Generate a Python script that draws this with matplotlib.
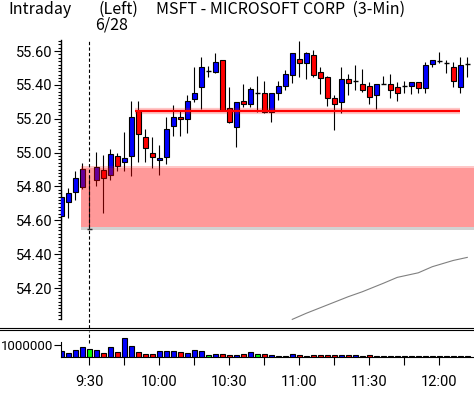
import numpy as np
import matplotlib
matplotlib.use("Agg")
import matplotlib.pyplot as plt
from matplotlib.lines import Line2D
from matplotlib.ticker import FixedLocator, FuncFormatter

plt.rcParams['font.family'] = ['Noto Sans CJK JP', 'DejaVu Sans']

# ---- data (bar index 0 = 9:30, 3-minute bars) ----
bar_index = list(range(-4, 55))
opens = [54.625, 54.71, 54.77, 54.795, 54.55, 54.84, 54.897, 54.87, 54.978, 54.943,
         54.982, 55.245, 55.09, 55.00, 54.955, 54.972, 55.155, 55.208, 55.197, 55.318,
         55.389, 55.484, 55.478, 55.545, 55.262, 55.153, 55.305, 55.285, 55.352, 55.35,
         55.238, 55.35, 55.393, 55.456, 55.555, 55.527, 55.575, 55.474, 55.445, 55.32,
         55.297, 55.433, 55.421, 55.403, 55.391, 55.338, 55.403, 55.403, 55.389, 55.391,
         55.395, 55.419, 55.38, 55.521, 55.543, 55.531, 55.504, 55.389, 55.523]
highs = [54.78, 54.79, 54.89, 54.94, 54.86, 55.005, 54.985, 55.02, 54.995, 55.12,
         55.305, 55.305, 55.14, 55.094, 55.045, 55.21, 55.28, 55.25, 55.34, 55.507,
         55.566, 55.51, 55.59, 55.545, 55.386, 55.30, 55.405, 55.39, 55.452, 55.42,
         55.35, 55.42, 55.488, 55.59, 55.66, 55.592, 55.606, 55.507, 55.452, 55.34,
         55.504, 55.464, 55.517, 55.494, 55.415, 55.403, 55.452, 55.464, 55.419, 55.423,
         55.419, 55.419, 55.533, 55.545, 55.592, 55.547, 55.533, 55.566, 55.566]
lows = [54.59, 54.615, 54.72, 54.785, 54.55, 54.80, 54.645, 54.84, 54.89, 54.893,
        54.863, 54.946, 54.946, 54.907, 54.867, 54.933, 55.10, 55.10, 55.117, 55.30,
        55.257, 55.445, 55.468, 55.245, 55.173, 55.035, 55.271, 55.27, 55.242, 55.232,
        55.18, 55.31, 55.37, 55.413, 55.448, 55.433, 55.448, 55.346, 55.275, 55.133,
        55.232, 55.34, 55.37, 55.36, 55.287, 55.257, 55.403, 55.32, 55.303, 55.35,
        55.344, 55.35, 55.35, 55.504, 55.531, 55.472, 55.389, 55.35, 55.445]
closes = [54.74, 54.76, 54.85, 54.905, 54.55, 54.915, 54.852, 54.99, 54.922, 54.966,
          55.208, 55.108, 55.025, 54.972, 54.967, 55.137, 55.208, 55.197, 55.305, 55.35,
          55.504, 55.484, 55.533, 55.25, 55.179, 55.30, 55.285, 55.374, 55.352, 55.238,
          55.35, 55.393, 55.462, 55.586, 55.527, 55.586, 55.456, 55.439, 55.324, 55.285,
          55.433, 55.409, 55.421, 55.368, 55.327, 55.403, 55.403, 55.368, 55.35, 55.391,
          55.419, 55.38, 55.517, 55.545, 55.543, 55.531, 55.421, 55.517, 55.523]
volumes = [0.48, 0.37, 0.57, 0.83, 0.71, 0.57, 0.37, 0.83, 0.46, 1.60,
           0.91, 0.46, 0.28, 0.28, 0.48, 0.54, 0.48, 0.46, 0.37, 0.63,
           0.48, 0.20, 0.28, 0.28, 0.20, 0.20, 0.28, 0.46, 0.28, 0.28,
           0.20, 0.11, 0.11, 0.28, 0.20, 0.11, 0.20, 0.20, 0.20, 0.20,
           0.20, 0.20, 0.20, 0.11, 0.20, 0.11, 0.11, 0.09, 0.11, 0.11,
           0.11, 0.09, 0.11, 0.09, 0.11, 0.11, 0.11, 0.11, 0.11]  # millions
vol_colors = ['b', 'b', 'b', 'b', 'g', 'b', 'r', 'b', 'r', 'b',
              'b', 'r', 'r', 'r', 'b', 'b', 'b', 'r', 'b', 'b',
              'b', 'g', 'b', 'r', 'r', 'b', 'r', 'b', 'g', 'r',
              'b', 'k', 'k', 'b', 'r', 'k', 'r', 'r', 'r', 'r',
              'b', 'r', 'b', 'k', 'r', 'k', 'k', 'k', 'k', 'k',
              'k', 'k', 'k', 'k', 'k', 'k', 'k', 'k', 'k']

# resistance line & support zone
resistance_level = 55.243
resistance_span = (6.5, 53.0)
zone_low, zone_high = 54.56, 54.91
zone_start = -1.19

# grey indicator line
ind_x = [29, 31, 34, 37, 39, 42, 44, 47, 49, 52, 54]
ind_y = [54.015, 54.051, 54.100, 54.149, 54.178, 54.228, 54.263, 54.290, 54.326, 54.363, 54.381]

price_ticks = [54.20, 54.40, 54.60, 54.80, 55.00, 55.20, 55.40, 55.60]
time_tick_pos = [0, 5, 10, 15, 20, 25, 30, 35, 40, 45, 50]
time_tick_labels = ['9:30', '', '10:00', '', '10:30', '', '11:00', '', '11:30', '', '12:00']

COL = {'b': '#0000ff', 'r': '#ff0000', 'g': '#00ff00', 'k': '#000000'}
TICK_FONT = ['Roboto', 'DejaVu Sans']

W, H = 474, 393
fig = plt.figure(figsize=(W / 100, H / 100), dpi=100)

def fx(px):
    return px / W

def fy(py):
    return 1 - py / H

left_px = 60.5
ax = fig.add_axes([fx(left_px), fy(328), fx(W - left_px), (328 - 40) / H])
axv = fig.add_axes([fx(left_px), fy(357), fx(W - left_px), (357 - 331) / H], sharex=ax)

xlim = (-4.11, 54.96)
ax.set_xlim(*xlim)
ax.set_ylim(53.964, 55.665)

# candles
x = np.array(bar_index, dtype=float)
o = np.array(opens); h = np.array(highs); l = np.array(lows); c = np.array(closes)
lw_px = 0.8
ax.vlines(x, l, h, color='k', lw=lw_px, zorder=2)
bw = 0.72
for xi, oi, ci in zip(x, o, c):
    if abs(ci - oi) < 1e-6:
        ax.hlines(oi, xi - bw / 2, xi + bw / 2, color='k', lw=1.0, zorder=3)
    else:
        col = COL['b'] if ci > oi else COL['r']
        ax.bar(xi, ci - oi, bottom=oi, width=bw, color=col, edgecolor='k',
               linewidth=lw_px, zorder=3)

# support zone
ax.fill_between([zone_start, xlim[1] + 1], zone_low - 0.018, zone_low, color='#808080',
                alpha=0.35, lw=0, zorder=4)
ax.fill_between([zone_start, xlim[1] + 1], zone_low, zone_high, color='#ff0000',
                alpha=0.4, lw=0, zorder=4)
ax.fill_between([zone_start, xlim[1] + 1], zone_high, zone_high + 0.008, color='#ff0000',
                alpha=0.22, lw=0, zorder=4)

# resistance line with glow
ax.hlines(resistance_level, *resistance_span, color='#ff0000', lw=4.5, alpha=0.22, zorder=5)
ax.hlines(resistance_level, *resistance_span, color='#ff0000', lw=1.6, zorder=5)

# grey indicator
ax.plot(ind_x, ind_y, color='#808080', lw=0.8, zorder=2)

# session start dashed line
ax.axvline(0, color='k', lw=0.8, ls=(0, (3, 2)), zorder=6)
axv.axvline(0, ymin=0.55, ymax=1, color='k', lw=0.8, ls=(0, (3, 2)), zorder=1)

# price axis styling
for s in ['top', 'right', 'bottom']:
    ax.spines[s].set_visible(False)
ax.spines['left'].set_bounds(54.02, 55.665)
ax.spines['left'].set_linewidth(1.0)
ax.yaxis.set_major_locator(FixedLocator(price_ticks))
ax.yaxis.set_minor_locator(FixedLocator(list(np.round(np.arange(54.02, 55.665, 0.02), 2))))
ax.yaxis.set_major_formatter(FuncFormatter(lambda v, p: f"{v:.2f}"))
ax.tick_params(axis='y', which='major', length=5, width=0.8, direction='out', pad=1,
               labelsize=10.5)
ax.tick_params(axis='y', which='minor', length=2.5, width=0.8, direction='out')
ax.tick_params(axis='x', which='both', bottom=False, labelbottom=False)
for t in ax.get_yticklabels():
    t.set_family(TICK_FONT)

# volume panel
v = np.array(volumes) * 1e6
axv.bar(x, v, width=bw, color=[COL[k] for k in vol_colors], edgecolor='k', linewidth=lw_px,
        zorder=2)
axv.set_ylim(0, 2.22e6)
for s in ['top', 'right']:
    axv.spines[s].set_visible(False)
axv.spines['left'].set_bounds(0, 1.3e6)
axv.set_yticks([1e6])
axv.set_yticklabels(['1000000'])
axv.tick_params(axis='y', length=5, width=0.8, pad=0.5, labelsize=9.5)
axv.set_xticks(time_tick_pos)
axv.set_xticklabels(time_tick_labels)
axv.tick_params(axis='x', length=6, width=0.8, pad=7, labelsize=10.5)
axv.set_xlim(*xlim)
for t in axv.get_yticklabels() + axv.get_xticklabels():
    t.set_family(TICK_FONT)

# panel separator (double line)
for yy in (328.3, 330.3):
    fig.add_artist(Line2D([0, 1], [fy(yy), fy(yy)], color='k', lw=0.8))

# header texts
fig.text(fx(8), fy(9), 'Intraday', ha='left', va='center', fontsize=11.5)
fig.text(fx(98), fy(9), '(Left)', ha='left', va='center', fontsize=11.5)
fig.text(fx(156), fy(9), 'MSFT - MICROSOFT CORP  (3-Min)', ha='left', va='center', fontsize=11.5)
fig.text(fx(95.5), fy(25.5), '6/28', ha='left', va='center', fontsize=11.5)

fig.savefig('out.png', dpi=100)
